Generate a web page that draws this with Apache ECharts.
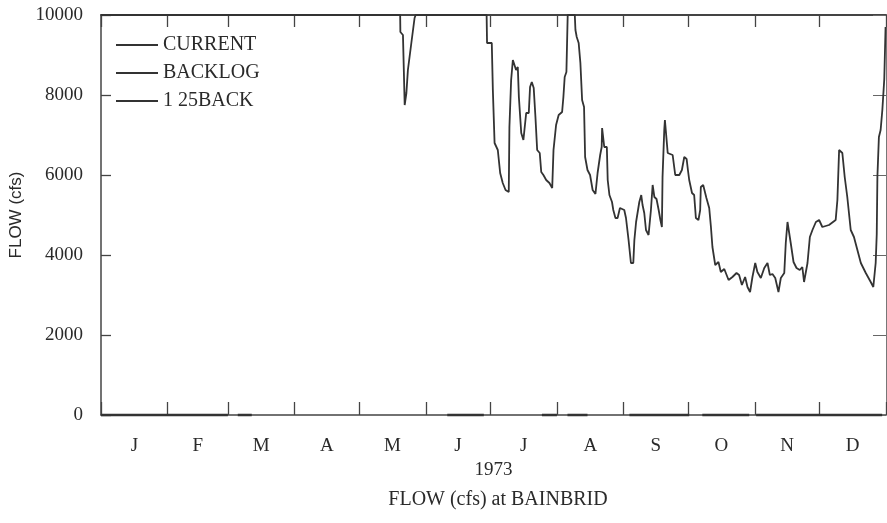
<!DOCTYPE html>
<html>
<head>
<meta charset="utf-8">
<script src="https://cdn.jsdelivr.net/npm/echarts@6/dist/echarts.min.js"></script>
<style>
html,body{margin:0;padding:0;background:#fff;}
#chart{width:887px;height:523px;}
</style>
</head>
<body>
<div id="chart"></div>
<script>
// ---- data (day of year 1973, flow in cfs; values >= 10000 shown at the top of the plot) ----
const monthLetters = ['J','F','M','A','M','J','J','A','S','O','N','D'];
const monthStartDay = [0,31,59,90,120,151,181,212,243,273,304,334,365];

const flowDays = [0,139.1,139.2,140.4,141.2,142.0,142.7,144.3,145.8,146.3,179.3,179.5,181.7,182.2,183.0,184.5,185.6,186.8,188.1,189.6,
  189.9,190.7,191.5,192.3,193.0,193.8,194.3,195.4,196.4,197.7,198.9,199.5,200.3,201.2,202.0,202.8,204.0,204.7,205.7,207.0,
  208.5,209.8,210.4,211.6,212.8,214.4,215.0,215.6,216.4,217.0,220.3,220.6,221.2,222.1,222.9,223.7,224.6,225.1,226.2,227.4,
  228.6,229.9,230.9,232.1,232.8,233.0,233.6,234.0,235.2,235.6,236.4,237.6,238.2,239.2,240.2,241.3,243.3,244.1,245.3,246.4,
  247.5,248.0,248.8,249.5,250.3,251.2,251.8,252.6,253.4,254.6,255.4,255.7,256.5,257.3,258.3,259.3,260.1,260.8,261.1,261.9,
  262.2,263.0,263.5,265.8,267.0,268.9,270.1,271.2,272.3,272.9,273.5,274.8,275.8,276.6,277.8,278.6,278.9,280.0,280.9,281.5,
  282.8,283.6,284.3,285.6,287.1,288.2,289.8,291.8,293.6,295.5,296.7,298.0,299.5,300.6,301.8,302.9,304.2,305.2,306.8,308.4,
  309.9,311.0,312.2,313.5,315.0,316.1,317.7,318.4,319.2,320.0,320.7,322.0,323.4,324.9,326.1,326.9,327.7,328.5,329.6,330.8,
  332.4,333.9,335.4,338.5,341.6,342.4,343.2,344.7,345.8,347.0,348.6,350.1,351.7,353.3,355.6,357.9,359.1,360.2,360.7,361.0,
  361.7,362.5,363.3,364.2,364.8];
const flowCfs = [10000,10000,9575,9500,7750,8050,8625,9300,9925,10000,10000,9300,9300,8125,6800,6625,6050,5800,5625,5575,
  7200,8375,8875,8900,8625,8700,7950,7050,6875,7550,7550,8200,8325,8175,7450,6625,6550,6075,6000,5875,
  5800,5675,6625,7250,7500,7575,7950,8450,8575,10000,10000,9625,9450,9300,8800,7875,7700,6450,6125,6000,
  5625,5525,6050,6500,6700,7175,7175,6700,6700,5875,5500,5325,5125,4925,4925,5175,5125,4925,4375,3800,
  3800,4375,4825,4825,5325,5500,5250,5050,4625,4500,4550,5125,5750,5450,5400,5125,4875,4700,5950,7125,
  7375,7375,6550,6500,6000,6000,6125,6450,6400,6125,5875,5550,5500,4925,4875,5125,5700,5750,5700,5425,
  5175,4700,4200,3750,3825,3575,3650,3375,3450,3550,3500,3250,3450,3200,3075,3450,3800,3575,3425,3675,
  3800,3500,3525,3425,3075,3425,3550,4300,4825,4875,4300,3825,3675,3625,3700,3325,3300,3800,4450,4625,
  4825,4875,4700,4750,4875,5375,6625,6550,5950,5450,4625,4450,4125,3800,3550,3325,3200,3800,4525,5950,
  6950,7125,7625,8400,9700];

// BACKLOG: spans of the year (start day, end day) where it sits at 0 cfs
const backlogStart = [0,63.6,161,205,216.9,245.7,279.6,304.6];
const backlogEnd   = [59,70.1,178,212,226.2,273.5,301.4,363.2];
const backlogLevel = 0;

const seriesNames = ['CURRENT','BACKLOG','1 25BACK'];
const xTitle = '1973';
const yTitle = 'FLOW (cfs)';
const chartTitle = 'FLOW (cfs) at BAINBRID';

// ---- build ----
const monthMidDay = monthLetters.map((m,i)=> (monthStartDay[i]+monthStartDay[i+1])/2);
const flowData = flowDays.map((d,i)=>[d, flowCfs[i]]);
const backlogData = [];
backlogStart.forEach((s,i)=>{
  backlogData.push([s, backlogLevel]);
  backlogData.push([backlogEnd[i], backlogLevel]);
  backlogData.push([backlogEnd[i], null]);
});

const serif = 'Liberation Serif';
const ink = '#2a2a2a';
const lineInk = '#333333';
const tickStyle = {color: '#444', width: 1.3};

const chart = echarts.init(document.getElementById('chart'), null, {renderer:'canvas'});
const option = {
  animation: false,
  backgroundColor: '#ffffff',
  color: [lineInk, lineInk, lineInk],
  title: {
    text: chartTitle,
    left: 493, top: 485,
    textAlign: 'center',
    textStyle: {fontFamily: serif, fontSize: 20, fontWeight: 'normal', color: ink}
  },
  legend: {
    orient: 'vertical',
    left: 110, top: 30,
    itemWidth: 42, itemHeight: 14, itemGap: 8,
    itemStyle: {opacity: 0},
    textStyle: {fontFamily: serif, fontSize: 20, color: ink},
    data: seriesNames
  },
  grid: {left: 101, right: 1, top: 15, bottom: 108, outerBoundsMode: 'none', containLabel: false},
  xAxis: [{
    type: 'value', min: 0, max: 365, position: 'bottom',
    axisLine: {show: true, onZero: false, lineStyle: {color: '#444', width: 1.5}},
    axisTick: {show: true, inside: true, length: 13, customValues: monthStartDay, lineStyle: tickStyle},
    axisLabel: {
      customValues: monthMidDay,
      formatter: v => { const i = monthMidDay.findIndex(m => Math.abs(m - v) < 0.01); return i >= 0 ? monthLetters[i] : ''; },
      margin: 22, fontFamily: serif, fontSize: 19, color: ink
    },
    splitLine: {show: false},
    name: xTitle, nameLocation: 'middle', nameGap: 44,
    nameTextStyle: {fontFamily: serif, fontSize: 19, color: ink}
  }, {
    type: 'value', min: 0, max: 365, position: 'top',
    axisLine: {show: true, onZero: false, lineStyle: {color: '#444', width: 2}},
    axisTick: {show: true, inside: true, length: 12, customValues: monthStartDay, lineStyle: tickStyle},
    axisLabel: {show: false},
    splitLine: {show: false}
  }],
  yAxis: [{
    type: 'value', min: 0, max: 10000, interval: 2000, position: 'left',
    axisLine: {show: true, onZero: false, lineStyle: {color: '#444', width: 1.5}},
    axisTick: {show: true, inside: true, length: 10, lineStyle: tickStyle},
    axisLabel: {margin: 18, fontFamily: serif, fontSize: 19, color: ink, formatter: v => String(v)},
    splitLine: {show: false},
    name: yTitle, nameLocation: 'middle', nameGap: 74,
    nameTextStyle: {fontFamily: 'Liberation Sans', fontSize: 17, color: ink}
  }, {
    type: 'value', min: 0, max: 10000, interval: 2000, position: 'right',
    axisLine: {show: true, onZero: false, lineStyle: {color: '#777', width: 1}},
    axisTick: {show: true, inside: true, length: 13, lineStyle: {color: '#666', width: 1}},
    axisLabel: {show: false},
    splitLine: {show: false}
  }],
  series: [{
    name: seriesNames[0], type: 'line', data: flowData,
    xAxisIndex: 0, yAxisIndex: 0,
    symbol: 'none', clip: true,
    itemStyle: {color: lineInk},
    lineStyle: {color: lineInk, width: 1.8}
  }, {
    name: seriesNames[1], type: 'line', data: backlogData,
    xAxisIndex: 0, yAxisIndex: 0,
    symbol: 'none', clip: false, connectNulls: false,
    itemStyle: {color: lineInk},
    lineStyle: {color: lineInk, width: 2.5}
  }, {
    name: seriesNames[2], type: 'line', data: [],
    xAxisIndex: 0, yAxisIndex: 0,
    symbol: 'none',
    itemStyle: {color: lineInk},
    lineStyle: {color: lineInk, width: 2.2}
  }]
};
chart.setOption(option);
</script>
</body>
</html>
